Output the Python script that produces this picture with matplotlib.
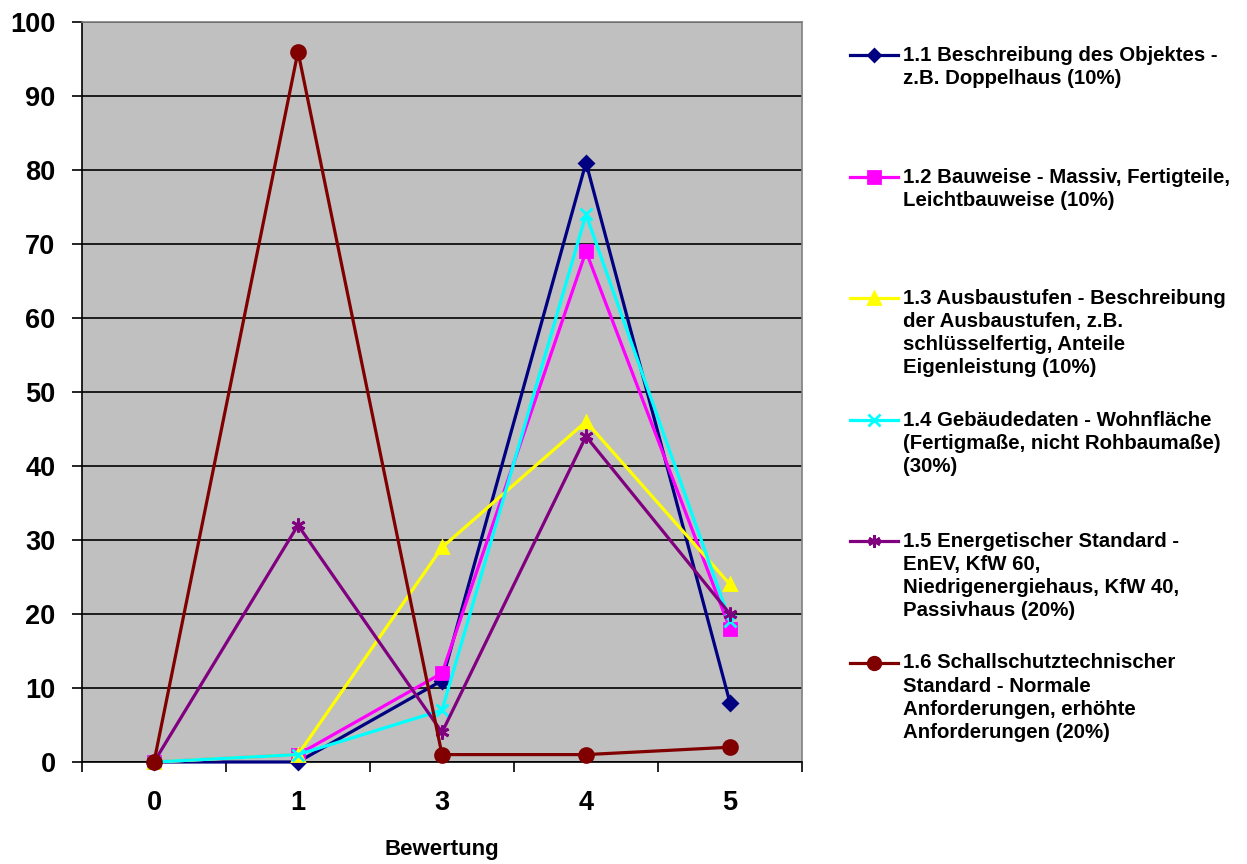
import numpy as np
import matplotlib.pyplot as plt
from matplotlib.lines import Line2D

plt.rcParams['font.family'] = ['Liberation Sans', 'DejaVu Sans']
plt.rcParams['font.weight'] = 'bold'

# Kategorien der Bewertung
bewertung = ['0', '1', '3', '4', '5']

# Anzahl Nennungen je Kriterium
s11 = [0, 0, 11, 81, 8]
s12 = [0, 1, 12, 69, 18]
s13 = [0, 1, 29, 46, 24]
s14 = [0, 1, 7, 74, 19]
s15 = [0, 32, 4, 44, 20]
s16 = [0, 96, 1, 1, 2]

labels = [
    '1.1 Beschreibung des Objektes -\nz.B. Doppelhaus (10%)',
    '1.2 Bauweise - Massiv, Fertigteile,\nLeichtbauweise (10%)',
    '1.3 Ausbaustufen - Beschreibung\nder Ausbaustufen, z.B.\nschlüsselfertig, Anteile\nEigenleistung (10%)',
    '1.4 Gebäudedaten - Wohnfläche\n(Fertigmaße, nicht Rohbaumaße)\n(30%)',
    '1.5 Energetischer Standard -\nEnEV, KfW 60,\nNiedrigenergiehaus, KfW 40,\nPassivhaus (20%)',
    '1.6 Schallschutztechnischer\nStandard - Normale\nAnforderungen, erhöhte\nAnforderungen (20%)',
]

# Stil je Reihe: Farbe, Marker, Markergröße
stile = [
    ('#000080', 'D', 7),
    ('#FF00FF', 's', 9),
    ('#FFFF00', '^', 9),
    ('#00FFFF', 'x', 9),
    ('#800080', (6, 2, 0), 10),
    ('#800000', 'o', 10),
]
reihen = [s11, s12, s13, s14, s15, s16]

fig = plt.figure(figsize=(12.47, 8.64), dpi=100)
ax = fig.add_axes([82 / 1247, 1 - 762 / 864, 720 / 1247, 740 / 864])
ax.set_facecolor('#C0C0C0')

x = np.arange(len(bewertung))
for werte, (farbe, mk, ms) in zip(reihen, stile):
    ax.plot(x, werte, color=farbe, lw=2.3, marker=mk, ms=ms,
            mec=farbe, mfc=farbe, mew=2, clip_on=False, zorder=3)

ax.set_xlim(-0.5, len(bewertung) - 0.5)
ax.set_ylim(0, 100)
ax.set_yticks(np.arange(0, 101, 10))
ax.yaxis.grid(True, color='black', lw=1.2)
ax.set_axisbelow(True)
ax.tick_params(axis='y', labelsize=19.5, length=7, width=1.2, pad=12)

ax.set_xticks(x)
ax.set_xticklabels(bewertung)
ax.set_xticks(np.arange(-0.5, len(bewertung), 1), minor=True)
ax.tick_params(axis='x', which='major', length=0, labelsize=19.5, pad=20)
ax.tick_params(axis='x', which='minor', length=7, width=1.2)
ax.set_xlabel('Bewertung', fontsize=16, fontweight='bold', labelpad=17)

for s in ['left', 'bottom']:
    ax.spines[s].set_linewidth(1.2)
for s in ['top', 'right']:
    ax.spines[s].set_color('#808080')
    ax.spines[s].set_linewidth(1.2)

# Legende rechts neben dem Diagramm
y0 = 55
for i, (lab, (farbe, mk, ms)) in enumerate(zip(labels, stile)):
    yy = 1 - (y0 + i * 121.5) / 864
    fig.add_artist(Line2D([850 / 1247, 898 / 1247], [yy, yy], color=farbe, lw=2.3,
                          transform=fig.transFigure))
    fig.add_artist(Line2D([874 / 1247], [yy], color=farbe, marker=mk, ms=ms - 1,
                          mec=farbe, mfc=farbe, mew=2, transform=fig.transFigure))
    fig.text(903 / 1247, yy + 9 / 864, lab, fontsize=14.7, fontweight='bold',
             va='top', ha='left', linespacing=1.27)

fig.savefig('out.png', dpi=100)
